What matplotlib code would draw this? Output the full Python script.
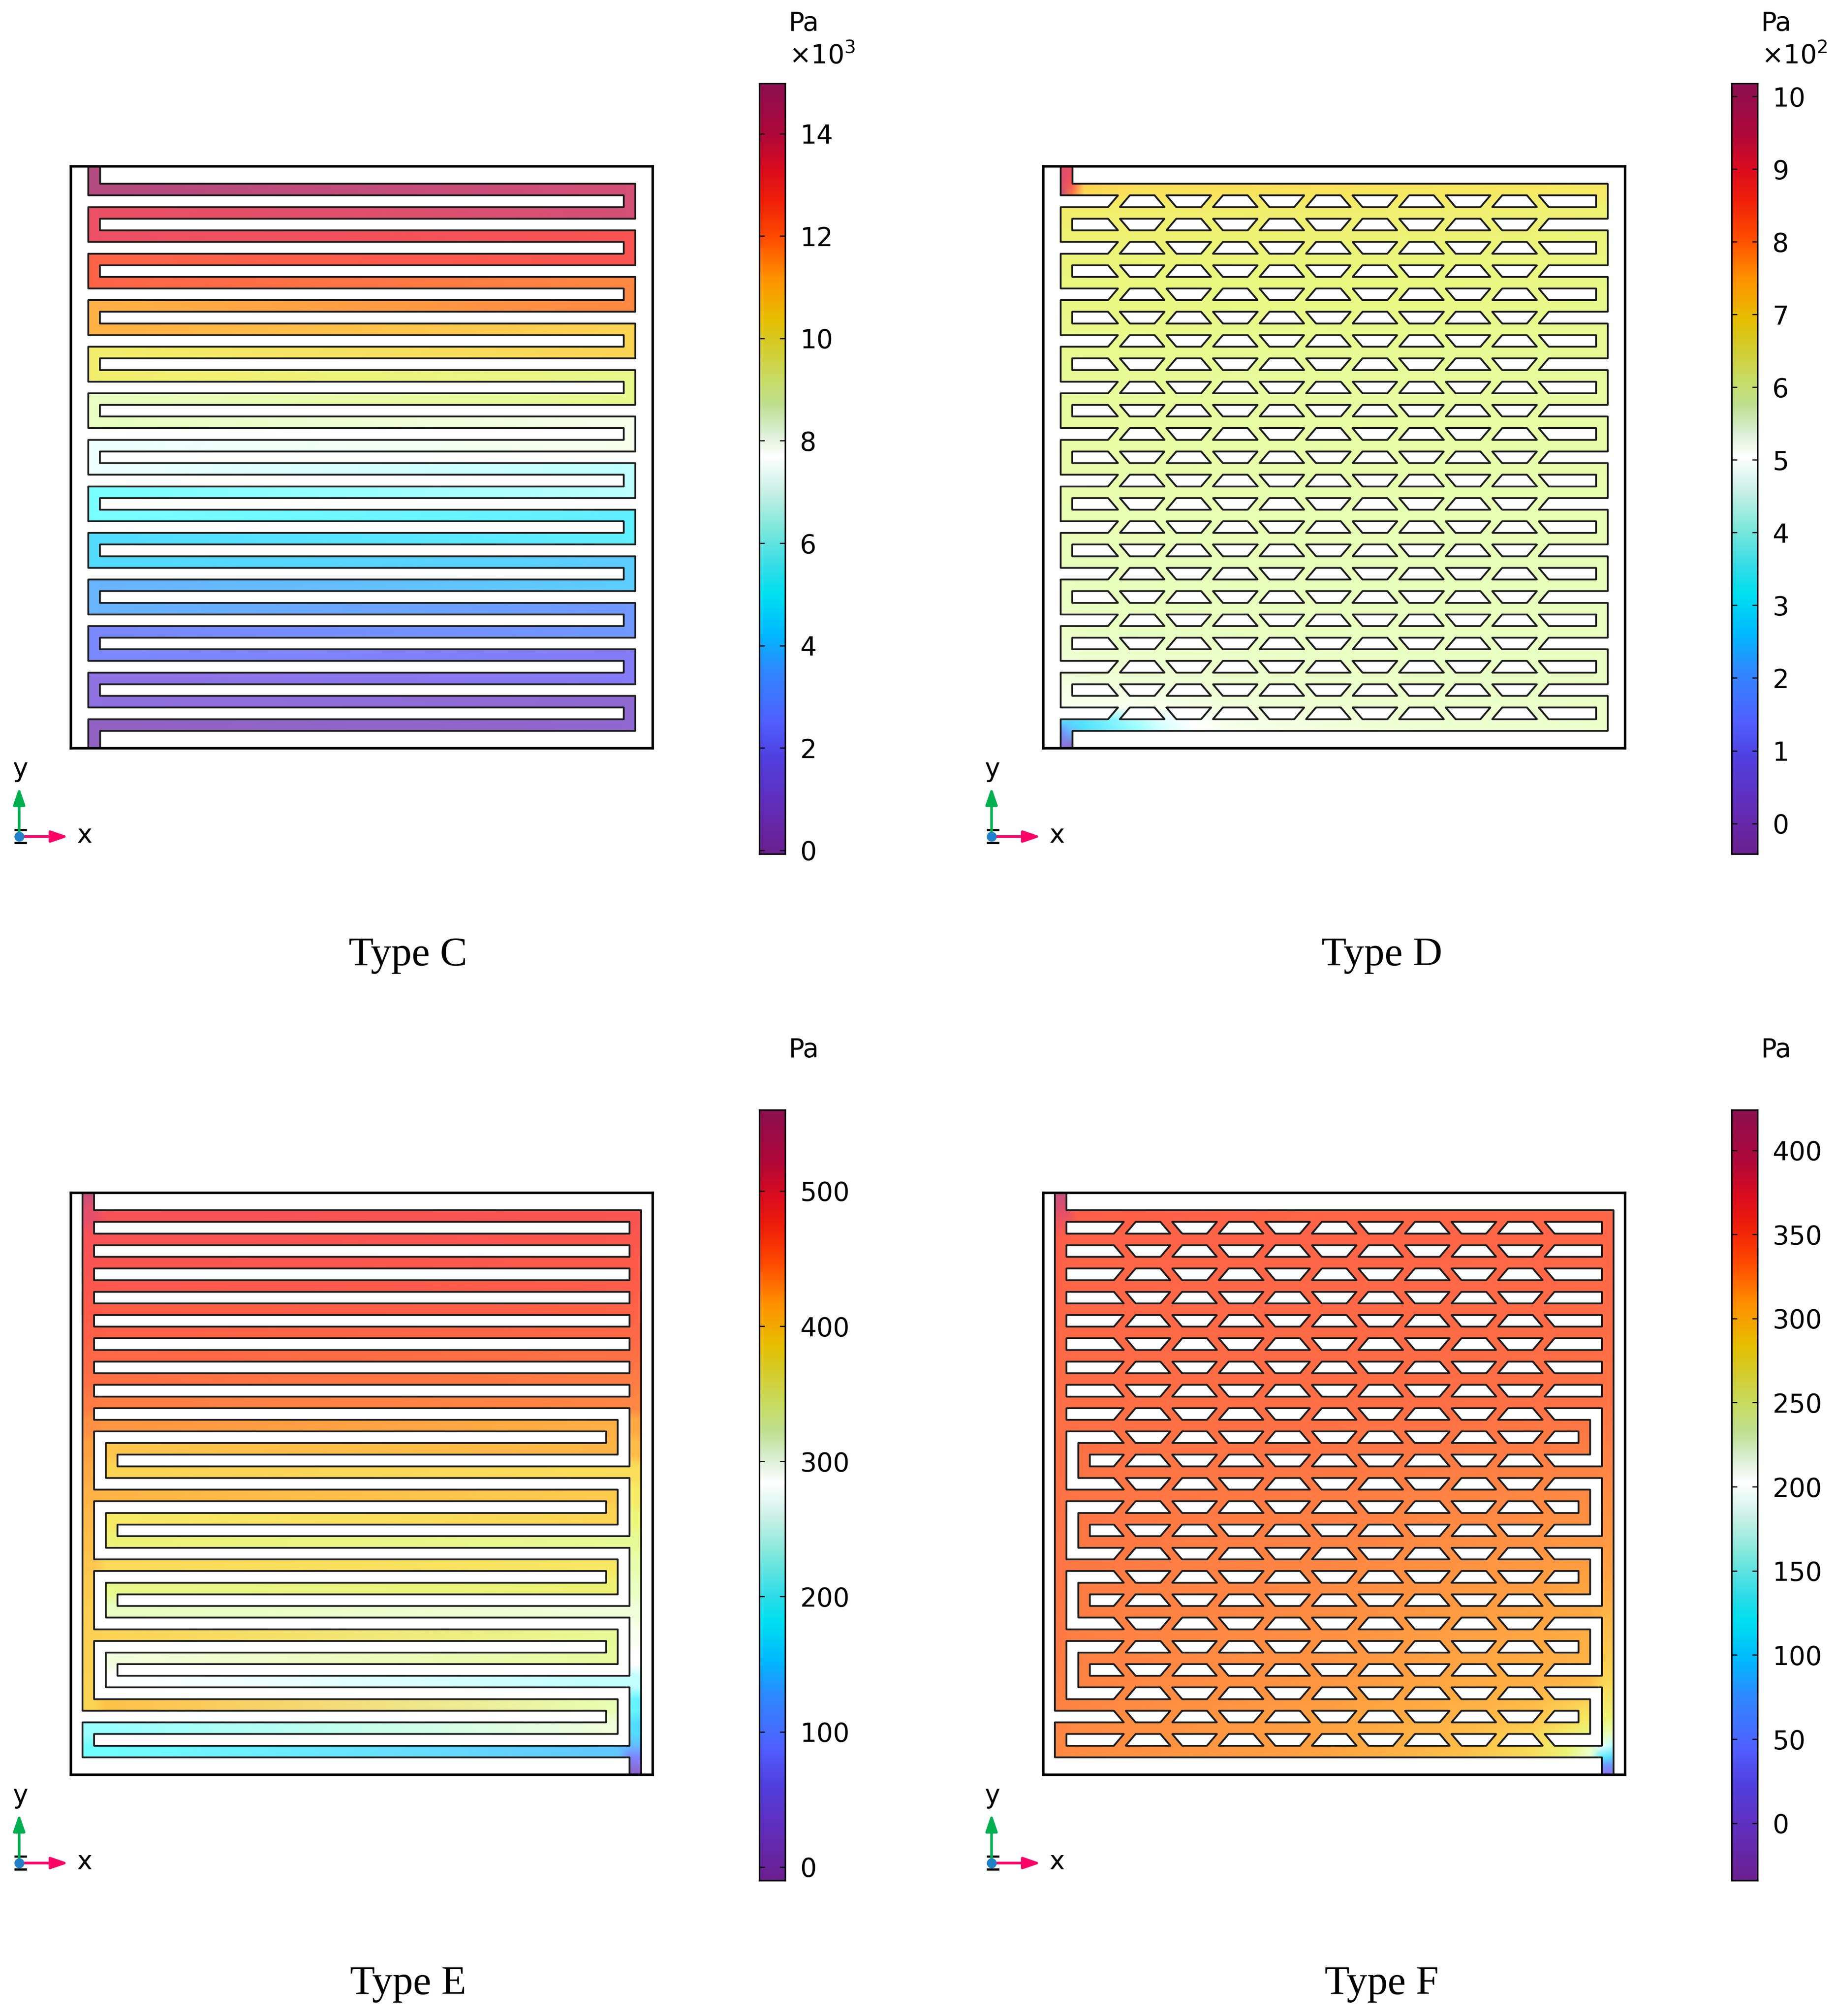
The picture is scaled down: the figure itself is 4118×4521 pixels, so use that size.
"""Pressure fields of four flow-field types (C, D, E, F) with COMSOL style colour bars."""

import numpy as np
import matplotlib

matplotlib.use("Agg")

import matplotlib.pyplot as plt  # noqa: E402
from matplotlib.colors import LinearSegmentedColormap, Normalize  # noqa: E402

W, H = 4118, 4521
DPI = 100

# colour stops (value in 10^3 Pa, colour)
C_MIN, C_MAX = -0.07, 14.98
BAR_V = [-0.07, 1, 1.8, 2.5, 3.5, 4.2, 5, 5.5, 6.3, 7, 7.7, 8.2, 8.7, 9.2, 10, 10.4, 11.2, 12, 12.7, 13.3, 14, 14.98]
BAR_C = ["#6b2090", "#6030c0", "#5040e0", "#5060ff", "#3088ff", "#00b8ff", "#00e0f0", "#30dce8",
         "#80e8dc", "#c8f0e4", "#ffffff", "#d8eed0", "#c0e090", "#c8dc64", "#d8c820", "#e8be00",
         "#ff9000", "#ff4a00", "#f0200a", "#dc0c1e", "#b0083a", "#8b0f50"]
# the channels show the same scale in a lighter shade
FIELD_V = [-0.07, 1, 2, 3, 4, 5, 6, 6.9, 7.7, 8.6, 9.4, 10.2, 10.8, 11.5, 12.1, 12.7, 13.4, 14, 14.5, 14.98]
FIELD_C = ["#9060c0", "#9070e0", "#8080ff", "#7098ff", "#60c8ff", "#50e0ff", "#70ffff", "#ccffff",
           "#ffffff", "#e8ffc0", "#e8f880", "#f8e860", "#ffc048", "#ffa040", "#ff7045", "#ff5a48",
           "#f54e5c", "#e54f6b", "#c8507f", "#b04a80"]

# Type C: pressure (10^3 Pa) at the start of each of the 24 rows, and at the outlet
C_P = [14.9, 14.3, 13.7, 13.05, 12.4, 11.8, 11.15, 10.5, 9.9, 9.25, 8.6, 8.0, 7.4,
       6.75, 6.1, 5.5, 4.85, 4.2, 3.6, 3.0, 2.35, 1.7, 1.1, 0.5, 0.0]

# Type D: pressure (10^2 Pa) on a coarse grid
D_X = [1.5, 2.5, 3.5, 8, 10, 13, 16, 30, 48.5]
D_Y = [0, 1.4, 2.5, 3.5, 10, 20, 30, 40, 44, 46.5, 47.5, 48.5, 50]
D_P = [
    [9.5, 9.5, 9.0, 7.0, 7.0, 7.0, 7.0, 7.0, 7.0],
    [9.6, 8.8, 7.1, 6.95, 6.95, 6.95, 6.95, 6.85, 6.8],
    [9.9, 8.0, 6.95, 6.85, 6.85, 6.85, 6.85, 6.8, 6.7],
    [6.7, 6.6, 6.6, 6.6, 6.6, 6.6, 6.6, 6.55, 6.5],
    [6.3, 6.3, 6.3, 6.3, 6.28, 6.28, 6.25, 6.25, 6.2],
    [6.0, 6.0, 6.0, 6.0, 6.0, 6.0, 5.97, 5.97, 5.95],
    [5.8, 5.8, 5.8, 5.8, 5.8, 5.8, 5.8, 5.8, 5.8],
    [5.6, 5.6, 5.65, 5.68, 5.68, 5.68, 5.68, 5.7, 5.7],
    [5.4, 5.4, 5.45, 5.47, 5.47, 5.5, 5.55, 5.62, 5.65],
    [5.2, 5.2, 5.2, 5.2, 5.25, 5.3, 5.4, 5.55, 5.62],
    [3.3, 3.2, 3.3, 4.3, 4.7, 5.05, 5.3, 5.5, 5.6],
    [1.7, 2.4, 3.15, 4.1, 4.5, 5.05, 5.25, 5.5, 5.6],
    [0.1, -0.2, 0.1, 4.1, 4.5, 5.05, 5.25, 5.5, 5.6],
]

# Type E: pressure (Pa) per row: left manifold, row at its left, row at its right, right manifold
E_MAN_L = [520, 492, 486, 480, 474, 467, 460, 453, 446, 436, 428, 420, 412, 407, 402, 398,
           396, 394, 393, 392, 391, 390, 235, 220]
E_ROW_L = [492, 489, 484, 478, 472, 465, 458, 451, 444, 432, 398, 390, 410, 375, 360, 387,
           342, 318, 390, 303, 284, 400, 235, 220]
E_ROW_R = [485, 480, 475, 470, 465, 458, 450, 445, 440, 415, 410, 385, 395, 390, 338, 378,
           360, 305, 338, 335, 250, 325, 305, 144]
E_MAN_R = [485, 480, 475, 470, 465, 458, 450, 445, 440, 420, 405, 385, 375, 355, 338, 328,
           318, 305, 295, 285, 250, 205, 175, 135]
E_INLET = 545
E_OUT_TOP = 75  # top of the outlet stub
E_OUTLET = -5

# Type F: pressure (Pa) on a coarse grid
F_X = [1, 2, 3, 24, 36, 42, 45, 47, 48, 49]
F_Y = [0, 1.5, 4, 18, 33, 42, 45, 46.5, 47.5, 48.5, 49.2, 50]
F_P = [
    [410, 410, 345, 345, 345, 345, 345, 345, 345, 345],
    [398, 394, 352, 345, 345, 345, 345, 345, 345, 345],
    [352, 348, 347, 346, 345, 345, 345, 345, 345, 345],
    [338, 338, 338, 338, 337, 336, 336, 336, 335, 335],
    [335, 333, 332, 327, 322, 320, 318, 318, 316, 316],
    [332, 330, 329, 322, 312, 308, 305, 300, 288, 285],
    [330, 328, 327, 318, 305, 296, 285, 278, 268, 262],
    [328, 327, 326, 317, 300, 288, 272, 255, 235, 230],
    [328, 327, 326, 316, 298, 284, 262, 228, 195, 170],
    [327, 326, 325, 316, 296, 284, 258, 222, 130, 110],
    [327, 326, 325, 316, 296, 284, 258, 200, 55, 55],
    [327, 326, 325, 316, 296, 284, 258, 200, 8, 8],
]

# colour bars: range and tick values
D_RANGE = (-0.42, 10.18)
E_RANGE = (-10, 560)
F_RANGE = (-34, 424)
C_TICKS = [0, 2, 4, 6, 8, 10, 12, 14]
D_TICKS = [0, 1, 2, 3, 4, 5, 6, 7, 8, 9, 10]
E_TICKS = [0, 100, 200, 300, 400, 500]
F_TICKS = [0, 50, 100, 150, 200, 250, 300, 350, 400]

# channel rows sit on a 2 mm pitch, 1 mm wide, in a 50 mm square
ROW_Y = [1.5 + 2 * i for i in range(24)]
MODULES = [19.5, 25.5, 31.5, 37.5]

N_GRID = 2610
_c = (np.arange(N_GRID) + 0.5) * 50 / N_GRID
GX, GY = np.meshgrid(_c.astype(np.float32), _c.astype(np.float32))


def rect(mask, x0, x1, y0, y1, value=True):
    mask[(GX >= x0) & (GX <= x1) & (GY >= y0) & (GY <= y1)] = value


def cut_slot(mask, y0, x0, x1, first=None):
    """Cut a 1 mm high slot; with `first` it is broken into trapezoids."""
    if first is None:
        rect(mask, x0, x1, y0, y0 + 1)
        return
    j = int(round((y0 - 2.5) / 2))
    band = (GY >= y0) & (GY <= y0 + 1)
    t = GY - y0
    for k in range(-1, 10):
        c = first + 4 * k
        up = (j + k) % 2 == 0
        half = 1.07 + 0.85 * (t if up else 1 - t)
        if k == -1:
            inside = (GX >= x0) & (GX <= c + half)
        elif k == 9:
            inside = (GX >= c - half) & (GX <= x1)
        else:
            inside = np.abs(GX - c) <= half
        mask[band & inside] = True


def serpentine_mask(first=None):
    """Type C (plain) and D (first = trapezoid centre): one serpentine at x 1.5..48.5."""
    mask = np.ones(GX.shape, dtype=bool)
    rect(mask, 1.5, 48.5, 1.5, 48.5, False)
    rect(mask, 1.5, 2.5, 0, 1.5, False)
    rect(mask, 1.5, 2.5, 48.5, 50, False)
    for j in range(23):
        y0 = 2.5 + 2 * j
        if j % 2 == 0:
            cut_slot(mask, y0, 0, 47.5, first)
        else:
            cut_slot(mask, y0, 2.5, 50, first)
    return mask


def manifold_mask(first=None):
    """Type E (plain) and F: parallel rows on top, nested S modules below."""
    mask = np.ones(GX.shape, dtype=bool)
    rect(mask, 1, 49, 1.5, 48.5, False)
    rect(mask, 1, 2, 0, 1.5, False)
    rect(mask, 48, 49, 48.5, 50, False)
    for j in range(8):
        cut_slot(mask, 2.5 + 2 * j, 2, 48, first)
    for s in MODULES:
        cut_slot(mask, s - 1, 2, 48, first)
        cut_slot(mask, s + 1, 2, 46, first)
        cut_slot(mask, s + 3, 4, 48, first)
        rect(mask, 2, 3, s + 1, s + 6)
        rect(mask, 47, 48, s - 1, s + 4)
    cut_slot(mask, 42.5, 2, 48, first)
    cut_slot(mask, 44.5, 0, 46, first)
    cut_slot(mask, 46.5, 2, 48, first)
    rect(mask, 47, 48, 42.5, 47.5)
    return mask


def c_field():
    x = [1.5, 2.5, 47.5, 48.5]
    y = [0.0]
    p = [[C_P[0]] * 4]
    for i, top in enumerate(ROW_Y):
        a, b = C_P[i], C_P[i + 1]
        left, right = (a, b) if i % 2 == 0 else (b, a)
        y += [top, top + 1]
        p += [[left, left, right, right]] * 2
    y.append(50.0)
    p.append([C_P[-1]] * 4)
    return x, y, p


def e_field():
    x = [1, 2, 3, 4, 46, 47, 48, 49]
    y = [0.0]
    p = [[E_INLET] * 8]
    for i, top in enumerate(ROW_Y):
        row = [E_MAN_L[i]] * 2 + [E_ROW_L[i]] * 2 + [E_ROW_R[i]] * 2 + [E_MAN_R[i]] * 2
        y += [top, top + 1]
        p += [row, list(row)]
    p[-1][6:] = [E_OUT_TOP, E_OUT_TOP]
    y.append(50.0)
    p.append([E_OUTLET] * 8)
    return x, y, p


def px_axes(fig, x0, y0, x1, y1):
    return fig.add_axes([x0 / W, 1 - y1 / H, (x1 - x0) / W, (y1 - y0) / H])


def draw_field(fig, box, x, y, p, mask, norm, cmap):
    ax = px_axes(fig, box[0], box[1], box[0] + 1305, box[1] + 1305)
    ax.pcolormesh(np.array(x), np.array(y), np.array(p, dtype=float), shading="gouraud",
                  cmap=cmap, norm=norm, zorder=1)
    rgba = np.zeros(mask.shape + (4,), dtype=np.uint8)
    rgba[..., :3] = 255
    rgba[..., 3] = mask * 255
    ax.imshow(rgba, extent=(0, 50, 50, 0), interpolation="nearest", aspect="auto", zorder=2)
    ax.contour(_c, _c, mask.astype(np.float32), levels=[0.5], colors="#1c1c1c",
               linewidths=2.9, zorder=3)
    ax.set_xlim(0, 50)
    ax.set_ylim(50, 0)
    ax.set_xticks([])
    ax.set_yticks([])
    for sp in ax.spines.values():
        sp.set_linewidth(4.0)
        sp.set_color("black")
        sp.set_zorder(5)


def draw_bar(fig, x0, y0, vrange, ticks, cmap):
    ax = px_axes(fig, x0, y0, x0 + 58, y0 + 1728)
    vals = np.linspace(vrange[0], vrange[1], 600)[:, None]
    ax.imshow(vals, extent=(0, 1, vrange[0], vrange[1]), origin="lower", aspect="auto",
              cmap=cmap, norm=Normalize(*vrange), interpolation="bilinear")
    ax.set_xticks([])
    ax.set_yticks(ticks)
    ax.set_yticklabels([str(t) for t in ticks])
    ax.yaxis.set_ticks_position("both")
    ax.tick_params(axis="y", direction="in", length=8.6, width=1.8, color="black",
                   labelleft=False, labelright=True, labelsize=42, pad=24)
    for sp in ax.spines.values():
        sp.set_linewidth(2.4)


def draw_triad(page, ox, oy):
    page.plot([ox - 11, ox + 17], [oy - 15, oy - 15], color="black", lw=3.5, solid_capstyle="butt")
    page.plot([ox - 11, ox + 17], [oy + 14, oy + 14], color="black", lw=3.5, solid_capstyle="butt")
    page.annotate("", xy=(ox, oy - 110), xytext=(ox, oy),
                  arrowprops=dict(arrowstyle="-|>,head_length=1.05,head_width=0.36", color="#00b050",
                                  lw=4.2, shrinkA=0, shrinkB=0, mutation_scale=22))
    page.annotate("", xy=(ox + 110, oy), xytext=(ox, oy),
                  arrowprops=dict(arrowstyle="-|>,head_length=1.05,head_width=0.36", color="#ff0066",
                                  lw=4.2, shrinkA=0, shrinkB=0, mutation_scale=22))
    page.plot([ox], [oy], "o", color="#2080c8", ms=16, mew=0, zorder=5)
    page.text(ox + 2, oy - 150, "y", fontsize=42, ha="center", va="center")
    page.text(ox + 147, oy - 3, "x", fontsize=42, ha="center", va="center")


bar_cmap = LinearSegmentedColormap.from_list(
    "bar", [((v - C_MIN) / (C_MAX - C_MIN), c) for v, c in zip(BAR_V, BAR_C)], N=512)
field_cmap = LinearSegmentedColormap.from_list(
    "field", [((v - C_MIN) / (C_MAX - C_MIN), c) for v, c in zip(FIELD_V, FIELD_C)], N=512)

fig = plt.figure(figsize=(W / DPI, H / DPI), dpi=DPI, facecolor="white")

page = fig.add_axes([0, 0, 1, 1])
page.set_xlim(0, W)
page.set_ylim(H, 0)
page.axis("off")

cx, cy, cp = c_field()
ex, ey, ep = e_field()
plain_s = serpentine_mask()
holed_s = serpentine_mask(first=8.5)
plain_m = manifold_mask()
holed_m = manifold_mask(first=9)

draw_field(fig, (159, 373), cx, cy, cp, plain_s, Normalize(C_MIN, C_MAX), field_cmap)
draw_field(fig, (2340, 373), D_X, D_Y, D_P, holed_s, Normalize(*D_RANGE), field_cmap)
draw_field(fig, (159, 2675), ex, ey, ep, plain_m, Normalize(*E_RANGE), field_cmap)
draw_field(fig, (2340, 2675), F_X, F_Y, F_P, holed_m, Normalize(*F_RANGE), field_cmap)

draw_bar(fig, 1703, 187, (C_MIN, C_MAX), C_TICKS, bar_cmap)
draw_bar(fig, 3884, 187, D_RANGE, D_TICKS, bar_cmap)
draw_bar(fig, 1703, 2489, E_RANGE, E_TICKS, bar_cmap)
draw_bar(fig, 3884, 2489, F_RANGE, F_TICKS, bar_cmap)

for ox, oy, unit, power in [(0, 0, "Pa", "3"), (2181, 0, "Pa", "2"), (0, 2302, "Pa", None), (2181, 2302, "Pa", None)]:
    page.text(1768 + ox, 52 + oy, unit, fontsize=42, ha="left", va="center")
    if power:
        page.text(1770 + ox, 126 + oy, r"$\times10^{%s}$" % power, fontsize=42, ha="left", va="center")
    draw_triad(page, 43 + ox, 1876 + oy)

for label, x, y in [("Type C", 915, 2143), ("Type D", 3099, 2143), ("Type E", 915, 4450), ("Type F", 3099, 4450)]:
    page.text(x, y, label, fontsize=66, family="Liberation Serif", ha="center", va="center")

fig.savefig("out.png", dpi=DPI, facecolor="white")
plt.close(fig)
